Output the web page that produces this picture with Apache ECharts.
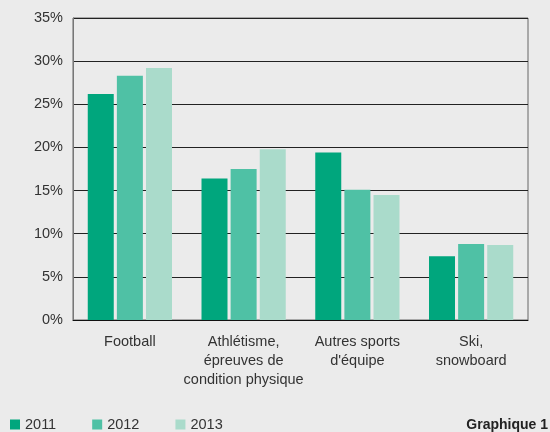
<!DOCTYPE html>
<html>
<head>
<meta charset="utf-8">
<script src="https://cdn.jsdelivr.net/npm/echarts@6/dist/echarts.min.js"></script>
<style>
    html, body { margin: 0; padding: 0; background: #ebebeb; }
    #chart { width: 550px; height: 432px; }
</style>
</head>
<body>
<div id="chart"></div>
<script>
const categories = ['Football', 'Athlétisme,\népreuves de\ncondition physique', 'Autres sports\nd\'équipe', 'Ski,\nsnowboard'];
const years = ['2011', '2012', '2013'];
const values2011 = [26.2, 16.4, 19.4, 7.4];
const values2012 = [28.3, 17.5, 15.1, 8.8];
const values2013 = [29.2, 19.8, 14.5, 8.7];
const yTicks = [0, 5, 10, 15, 20, 25, 30, 35];

const colors = ['#00a67d', '#4fc1a5', '#aadbcb'];
const font = 'Liberation Sans, Arial, sans-serif';

const myChart = echarts.init(document.getElementById('chart'));

const seriesDefaults = {
    type: 'bar',
    barWidth: 26,
    barGap: '12%',
    animation: false
};

const option = {
    backgroundColor: '#ebebeb',
    textStyle: { fontFamily: font },
    title: {
        text: 'Graphique 1',
        right: -3,
        top: 413,
        textStyle: { fontSize: 14, fontWeight: 'bold', color: '#222', fontFamily: font }
    },
    legend: {
        data: years,
        left: 5,
        top: 412,
        icon: 'rect',
        itemWidth: 10,
        itemHeight: 10,
        itemGap: 36,
        textStyle: { fontSize: 14.5, color: '#333', fontFamily: font },
        selectedMode: false
    },
    grid: {
        left: 73,
        right: 22,
        top: 18,
        bottom: 112,
        show: true,
        borderColor: '#666',
        borderWidth: 1
    },
    xAxis: {
        type: 'category',
        data: categories,
        axisTick: { show: false },
        axisLine: { lineStyle: { color: '#111', width: 1 } },
        axisLabel: {
            interval: 0,
            margin: 12,
            fontSize: 14.5,
            lineHeight: 19,
            color: '#333',
            fontFamily: font
        }
    },
    yAxis: {
        type: 'value',
        min: yTicks[0],
        max: yTicks[yTicks.length - 1],
        interval: 5,
        axisLine: { show: true, lineStyle: { color: '#777' } },
        axisTick: { show: false },
        splitLine: { lineStyle: { color: '#222', width: 1 } },
        axisLabel: {
            formatter: '{value}%',
            margin: 10,
            fontSize: 14.5,
            color: '#333',
            fontFamily: font
        }
    },
    series: [
        { ...seriesDefaults, name: years[0], data: values2011, itemStyle: { color: colors[0] } },
        { ...seriesDefaults, name: years[1], data: values2012, itemStyle: { color: colors[1] } },
        { ...seriesDefaults, name: years[2], data: values2013, itemStyle: { color: colors[2] } }
    ]
};

myChart.setOption(option);
</script>
</body>
</html>
